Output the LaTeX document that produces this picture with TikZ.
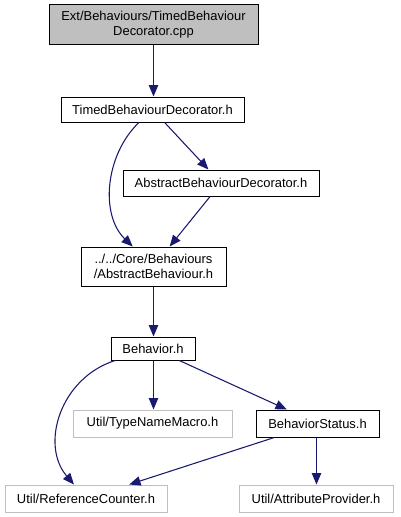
\documentclass[tikz,border=0pt]{standalone}
\usepackage{fontspec}
\setmainfont{Liberation Sans}
\usetikzlibrary{arrows.meta}
\definecolor{edgeblue}{HTML}{191970}
\definecolor{boxgray}{HTML}{BFBFBF}
\tikzset{
  file/.style={draw=black, line width=0.75pt, inner sep=0pt, align=center,
    font=\fontsize{9.7}{11.2}\selectfont, text=black},
  ext/.style={file, draw=boxgray},
  cur/.style={file, fill=boxgray},
  dep/.style={draw=edgeblue, line width=0.8pt, -{Triangle[length=8.5pt,width=7pt]}, fill=none},
}
\begin{document}
\begin{tikzpicture}[x=0.75pt,y=-0.75pt]
\useasboundingbox (0,0) rectangle (400,517);
\node[cur, minimum width=209*0.75pt, minimum height=40*0.75pt] (n1) at (153.5,25) {Ext/Behaviours/TimedBehaviour\\Decorator.cpp};
\node[file, minimum width=183*0.75pt, minimum height=25*0.75pt] (n2) at (152.5,109.5) {TimedBehaviourDecorator.h};
\node[file, minimum width=196*0.75pt, minimum height=26*0.75pt] (n3) at (221,183) {AbstractBehaviourDecorator.h};
\node[file, minimum width=145*0.75pt, minimum height=39*0.75pt] (n4) at (153.5,266.5) {../../Core/Behaviours\\/AbstractBehaviour.h};
\node[file, minimum width=84*0.75pt, minimum height=23*0.75pt] (n5) at (153,348.5) {Behavior.h};
\node[ext, minimum width=159*0.75pt, minimum height=27*0.75pt] (n6) at (152.5,423.5) {Util/TypeNameMacro.h};
\node[file, minimum width=123*0.75pt, minimum height=27*0.75pt] (n7) at (317.5,423.5) {BehaviorStatus.h};
\node[ext, minimum width=162*0.75pt, minimum height=27*0.75pt] (n8) at (86,498.5) {Util/ReferenceCounter.h};
\node[ext, minimum width=154*0.75pt, minimum height=27*0.75pt] (n9) at (316,498.5) {Util/AttributeProvider.h};

\draw[dep] (n1.south -| 153.5,0) -- (n2.north -| 153.5,0);
\draw[dep] (n2) -- (n3);
\draw[dep] (n2) .. controls (105,155) and (100,215) .. (n4);
\draw[dep] (n3) -- (n4);
\draw[dep] (n4.south -| 153.5,0) -- (n5.north -| 153.5,0);
\draw[dep] (n5) .. controls (60,378) and (40,445) .. (n8);
\draw[dep] (n5.south -| 153.5,0) -- (n6.north -| 153.5,0);
\draw[dep] (n5) -- (n7);
\draw[dep] (n7) -- (n8);
\draw[dep] (n7.south -| 316.5,0) -- (n9.north -| 316.5,0);
\end{tikzpicture}
\end{document}
